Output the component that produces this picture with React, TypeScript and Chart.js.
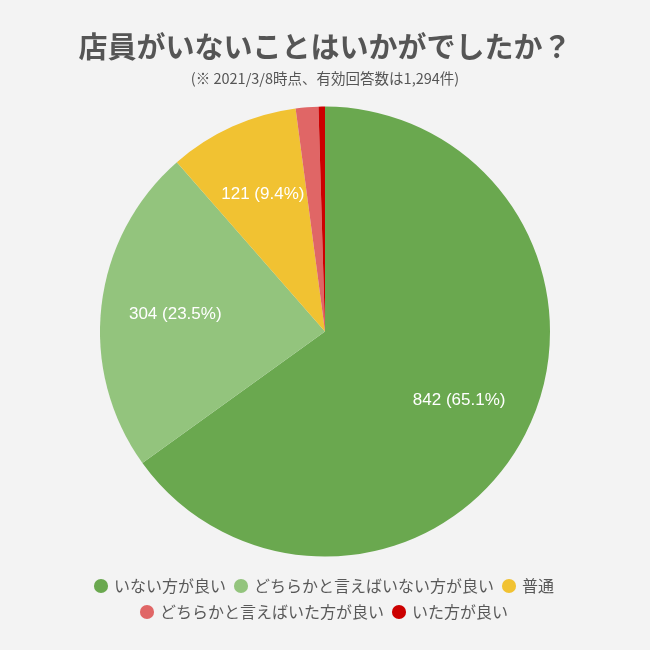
import React, { useEffect, useRef } from "react";
import { Chart, registerables } from "chart.js";

Chart.register(...registerables);

const categories = [
  "いない方が良い",
  "どちらかと言えばいない方が良い",
  "普通",
  "どちらかと言えばいた方が良い",
  "いた方が良い",
];
const counts = [842, 304, 121, 21, 6];
const percentLabels = ["65.1%", "23.5%", "9.4%", "1.6%", "0.5%"];
const showLabel = [true, true, true, false, false];
const colors = ["#6aa84f", "#93c47d", "#f1c232", "#e06666", "#cc0000"];
const titleText = "店員がいないことはいかがでしたか？";
const subtitleText = "(※ 2021/3/8時点、有効回答数は1,294件)";

const FONT = "'Noto Sans CJK JP', 'Liberation Sans', sans-serif";

const sliceLabels = {
  id: "sliceLabels",
  afterDatasetsDraw(chart: any) {
    const ctx = chart.ctx;
    const meta = chart.getDatasetMeta(0);
    ctx.save();
    ctx.font = "17px 'Liberation Sans', Arial, sans-serif";
    ctx.fillStyle = "#ffffff";
    ctx.textAlign = "center";
    ctx.textBaseline = "middle";
    meta.data.forEach((arc: any, i: number) => {
      if (!showLabel[i]) return;
      const p = arc.getProps(["x", "y", "startAngle", "endAngle", "outerRadius"], true);
      const mid = (p.startAngle + p.endAngle) / 2;
      const r = p.outerRadius * 0.67;
      ctx.fillText(
        `${counts[i]} (${percentLabels[i]})`,
        p.x + Math.cos(mid) * r,
        p.y + Math.sin(mid) * r
      );
    });
    ctx.restore();
  },
};

const bgPlugin = {
  id: "bg",
  beforeDraw(chart: any) {
    const ctx = chart.ctx;
    ctx.save();
    ctx.fillStyle = "#f3f3f3";
    ctx.fillRect(0, 0, chart.width, chart.height);
    ctx.restore();
  },
};

export default function App() {
  const ref = useRef<HTMLCanvasElement>(null);
  useEffect(() => {
    document.body.style.margin = "0";
    const chart = new Chart(ref.current!, {
      type: "pie",
      data: {
        labels: categories,
        datasets: [
          {
            data: counts,
            backgroundColor: colors,
            borderWidth: 0,
            radius: 225,
          },
        ],
      },
      options: {
        animation: false,
        responsive: false,
        layout: { padding: { bottom: 20 } },
        plugins: {
          title: {
            display: true,
            text: titleText,
            color: "#555555",
            font: { family: FONT, size: 29, weight: "bold" },
            padding: { top: 30, bottom: 5 },
          },
          subtitle: {
            display: true,
            text: subtitleText,
            color: "#555555",
            font: { family: FONT, size: 14.5 },
            padding: { top: 0, bottom: 8 },
          },
          legend: {
            position: "bottom",
            labels: {
              usePointStyle: true,
              pointStyle: "circle",
              boxWidth: 10,
              boxHeight: 10,
              padding: 10,
              color: "#595959",
              font: { family: FONT, size: 16 },
            },
          },
          tooltip: { enabled: false },
        },
      },
      plugins: [bgPlugin, sliceLabels],
    });
    return () => chart.destroy();
  }, []);
  return (
    <div style={{ width: 650, height: 650, background: "#f3f3f3" }}>
      <canvas ref={ref} width={650} height={650} />
    </div>
  );
}
